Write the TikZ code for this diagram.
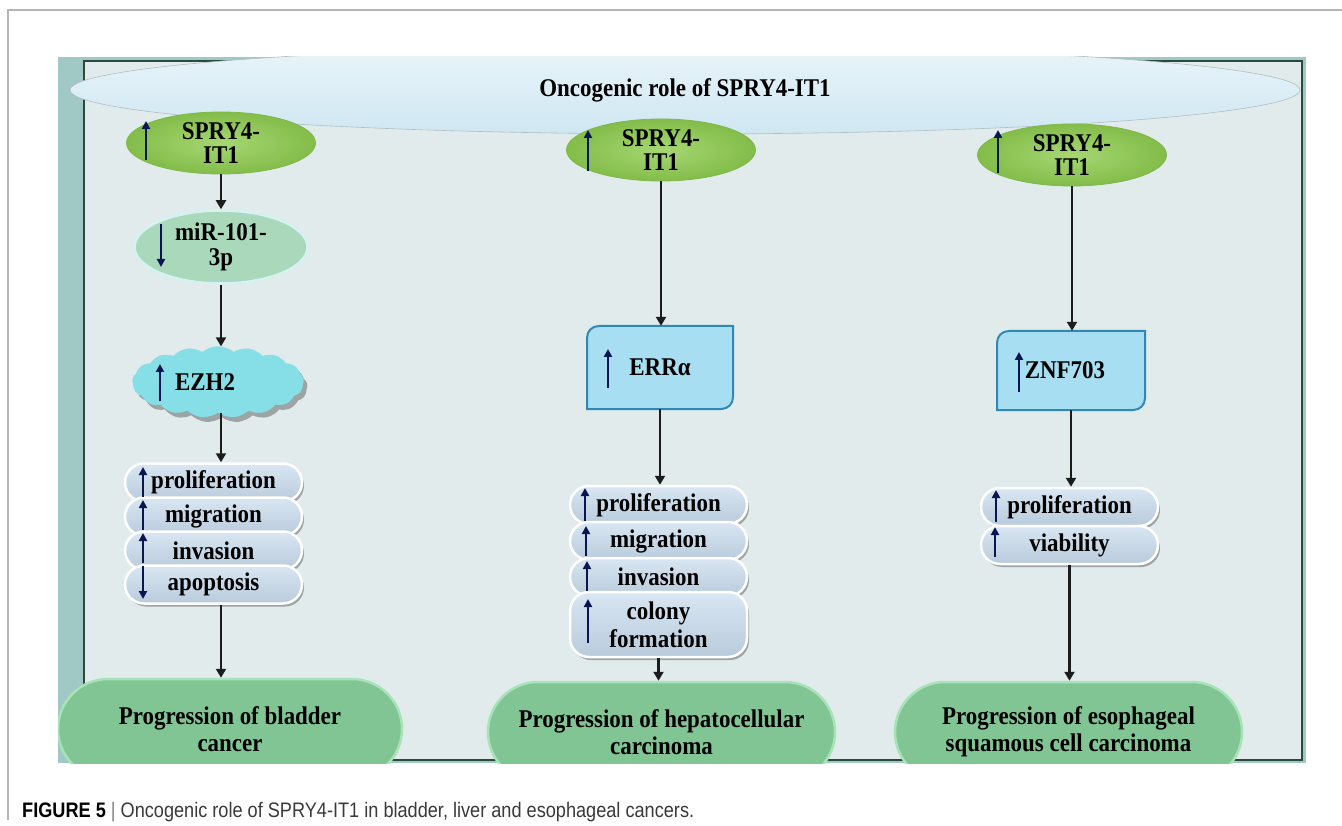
\documentclass[tikz,border=0pt]{standalone}
\usepackage{fontspec}
\usepackage{graphicx}
\setmainfont{Liberation Serif}[FakeStretch=0.9]
\setsansfont{Liberation Sans}
\usetikzlibrary{shapes.geometric,shapes.symbols,arrows.meta,shadows,calc}

\definecolor{teal1}{HTML}{A0C8C4}
\definecolor{panel}{HTML}{E1EBEB}
\definecolor{panelline}{HTML}{2C4A3B}
\definecolor{topell}{HTML}{CFE7F2}
\definecolor{sprygreen}{HTML}{8FCD50}
\definecolor{spryedge}{HTML}{7DB848}
\definecolor{mirgreen}{HTML}{A9D8BA}
\definecolor{mirglow}{HTML}{D5F2F2}
\definecolor{cloudc}{HTML}{86DFE6}
\definecolor{boxfill}{HTML}{A8DEF1}
\definecolor{boxline}{HTML}{2F88B5}
\definecolor{pillfill}{HTML}{C9DCEE}
\definecolor{progfill}{HTML}{81C594}
\definecolor{progedge}{HTML}{A8E2B8}
\definecolor{navy}{HTML}{0B1552}
\definecolor{arrowk}{HTML}{1C1C1C}
\definecolor{framegray}{HTML}{B5B5B5}
\definecolor{captxt}{HTML}{3A3A3A}

\tikzset{
  dtext/.style={font=\fontsize{25.5}{24}\selectfont\bfseries, text=black, align=center, inner sep=0pt},
  topellipse/.style={dtext, ellipse, minimum width=1230pt, minimum height=88pt,
    top color=topell!45!white, bottom color=topell, draw=topell!60!gray, line width=0.6pt},
  spry/.style={dtext, ellipse, minimum width=189pt, minimum height=62pt,
    inner color=sprygreen!80!white, outer color=sprygreen!92!black, draw=spryedge, line width=0.8pt},
  mirnode/.style={dtext, font=\fontsize{25.5}{25}\selectfont\bfseries, ellipse, minimum width=173pt, minimum height=73pt,
    fill=mirgreen, draw=mirglow, line width=2.5pt},
  cloudnode/.style={dtext, cloud, cloud puffs=17, cloud puff arc=80, aspect=2.4,
    minimum width=171pt, minimum height=71pt, fill=cloudc, draw=cloudc,
    drop shadow={shadow xshift=4pt, shadow yshift=-5pt, opacity=0.3, fill=black}},
  boxlabel/.style={dtext, rectangle},
  boxshape/.style={fill=boxfill, draw=boxline, line width=2pt},
  pill/.style={dtext, rectangle, rounded corners=19pt, minimum width=177pt, minimum height=38pt,
    top color=pillfill!70!white, bottom color=pillfill!92!black, draw=white, line width=2.5pt,
    drop shadow={shadow xshift=2pt, shadow yshift=-3pt, opacity=0.3, fill=black}},
  prog/.style={dtext, font=\fontsize{25.5}{27}\selectfont\bfseries, rectangle, rounded corners=50pt,
    minimum height=100pt, fill=progfill, draw=progedge, line width=2.5pt},
  flow/.style={draw=arrowk, line width=2.2pt, -{Triangle[width=10pt,length=9pt]}},
  ind/.style={draw=navy, line width=2.6pt, -{Triangle[width=8pt,length=8pt]}},
}

\begin{document}
\begin{tikzpicture}[x=1pt,y=-1pt]
\useasboundingbox (0,0) rectangle (1342,826);
\fill[white] (0,0) rectangle (1342,826);

% outer frame lines
\draw[framegray, line width=1.2pt] (8,820) -- (8,10) -- (1342,10);

% image background
\fill[teal1] (58,57) rectangle (1306,763);
\draw[fill=panel, draw=panelline, line width=2pt] (84,61) rectangle (1302,760);

\begin{scope}
\clip (58,57) rectangle (1306,763);
\node[topellipse] (title) at (685,90) {Oncogenic role of SPRY4-IT1};
\node[prog, minimum width=344pt] (prog1) at (230,729) {Progression of bladder\\cancer};
\node[prog, minimum width=347pt] (prog2) at (661.5,732) {Progression of hepatocellular\\carcinoma};
\node[prog, minimum width=347pt] (prog3) at (1068.5,732) {Progression of esophageal\\squamous cell carcinoma};
\end{scope}

% SPRY4-IT1 ellipses
\node[spry] (s1) at (221,143) {SPRY4-\\IT1};
\node[spry] (s2) at (661,150) {SPRY4-\\IT1};
\node[spry] (s3) at (1072,155) {SPRY4-\\IT1};

% left column
\node[mirnode] (mir) at (221,247) {miR-101-\\3p};
\node[cloudnode] (ezh) at (218,382) {EZH2\hspace*{26pt}};
\node[pill] (lp1) at (213.5,482.5) {proliferation};
\node[pill] (lp2) at (213.5,516.5) {migration};
\node[pill] (lp3) at (213.5,550.5) {invasion};
\node[pill] (lp4) at (213.5,584.5) {apoptosis};

% middle column
\coordinate (errc) at (660,367.5);
\draw[boxshape]
  ($(errc)+(-73,41.5)$) -- ($(errc)+(-73,-29.5)$)
  .. controls ($(errc)+(-73,-36.5)$) and ($(errc)+(-68,-41.5)$) .. ($(errc)+(-61,-41.5)$)
  -- ($(errc)+(73,-41.5)$) -- ($(errc)+(73,29.5)$)
  .. controls ($(errc)+(73,36.5)$) and ($(errc)+(68,41.5)$) .. ($(errc)+(61,41.5)$)
  -- cycle;
\node[boxlabel, minimum width=146pt, minimum height=83pt] (err) at (errc) {ERRα};
\node[pill] (mp1) at (658.5,505) {proliferation};
\node[pill] (mp2) at (658.5,541) {migration};
\node[pill] (mp3) at (658.5,577) {invasion};
\node[pill, minimum height=65pt, font=\fontsize{25.5}{28}\selectfont\bfseries] (mp4) at (658.5,624.5) {colony\\formation};

% right column
\coordinate (znfc) at (1071,370.5);
\draw[boxshape]
  ($(znfc)+(-74,39.5)$) -- ($(znfc)+(-74,-27.5)$)
  .. controls ($(znfc)+(-74,-34.5)$) and ($(znfc)+(-69,-39.5)$) .. ($(znfc)+(-62,-39.5)$)
  -- ($(znfc)+(74,-39.5)$) -- ($(znfc)+(74,27.5)$)
  .. controls ($(znfc)+(74,34.5)$) and ($(znfc)+(69,39.5)$) .. ($(znfc)+(62,39.5)$)
  -- cycle;
\node[boxlabel, minimum width=148pt, minimum height=79pt] (znf) at (znfc) {ZNF703\hspace*{12pt}};
\node[pill] (rp1) at (1069.5,507) {proliferation};
\node[pill] (rp2) at (1069.5,545) {viability};

% flow arrows
\draw[flow] (s1.south) -- (s1.south |- mir.north);
\draw[flow] (mir.south) -- (mir.south |- ezh.north);
\draw[flow] (ezh.south -| s1.south) -- (s1.south |- lp1.north);
\draw[flow] (lp4.south -| s1.south) -- (s1.south |- prog1.north);

\draw[flow] (s2.south) -- (s2.south |- err.north);
\draw[flow] (err.south) -- (err.south |- mp1.north);
\draw[flow] (mp4.south) -- (mp4.south |- prog2.north);

\draw[flow] (s3.south) -- (s3.south |- znf.north);
\draw[flow] (znf.south) -- (znf.south |- rp1.north);
\draw[flow] (rp2.south -| rp1.south) -- (rp1.south |- prog3.north);

% up/down indicators
\draw[ind] (146,160) -- (146,121);
\draw[ind] (588,171) -- (588,130);
\draw[ind] (998,173) -- (998,130);
\draw[ind] (161,224) -- (161,267);
\draw[ind] (160,401) -- (160,364);
\draw[ind] (608,388) -- (608,349);
\draw[ind] (1019,392) -- (1019,352);

\draw[ind] (143,497) -- (143,467);
\draw[ind] (143,530) -- (143,500);
\draw[ind] (143,563) -- (143,533);
\draw[ind] (143,566) -- (143,599);

\draw[ind] (585,521) -- (585,488);
\draw[ind] (586,556) -- (586,526);
\draw[ind] (587,591) -- (587,561);
\draw[ind] (588,643) -- (588,599);

\draw[ind] (996,522) -- (996,490);
\draw[ind] (995,557) -- (995,527);

% caption
\node[anchor=west, inner sep=0pt, font=\sffamily\fontsize{21}{21}\selectfont, text=captxt] (cap) at (22,812)
  {\scalebox{0.864}[1]{\textbf{\color{black}FIGURE 5} {\color{gray}|} Oncogenic role of SPRY4-IT1 in bladder, liver and esophageal cancers.}};
\end{tikzpicture}
\end{document}
